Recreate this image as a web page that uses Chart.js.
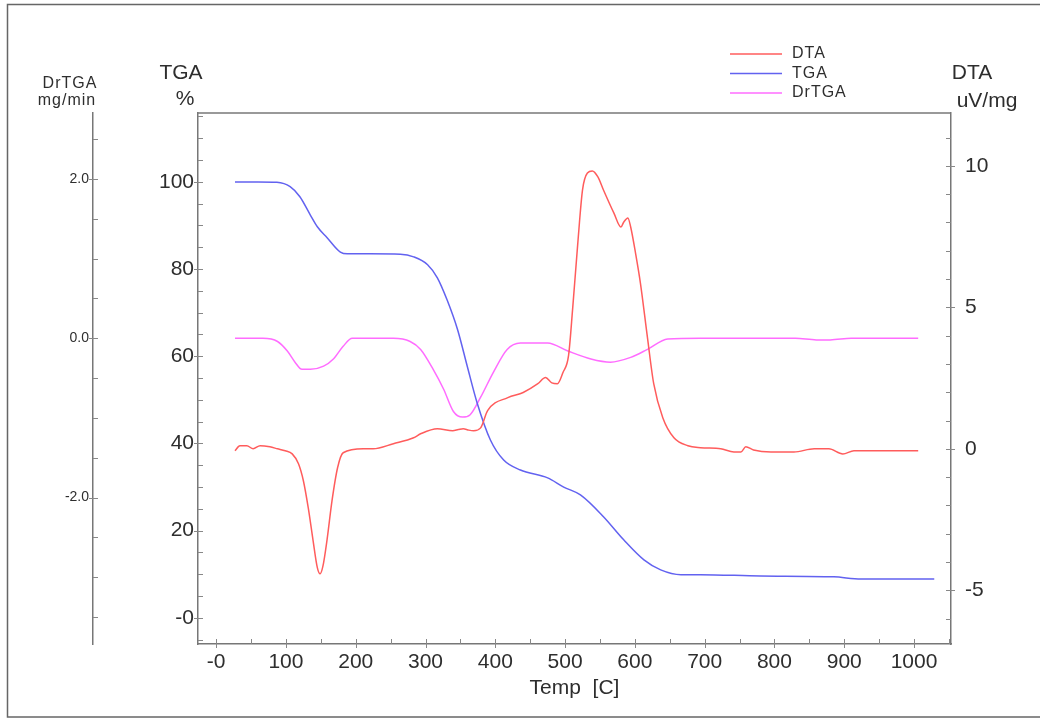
<!DOCTYPE html>
<html>
<head>
<meta charset="utf-8">
<title>DTA / TGA / DrTGA</title>
<script src="https://cdn.jsdelivr.net/npm/chart.js@4.4.1/dist/chart.umd.min.js"></script>
<style>
  html, body { margin: 0; padding: 0; background: #fff; }
  canvas { display: block; }
</style>
</head>
<body>
<canvas id="thermo" width="1040" height="720"></canvas>
<script>
// Temperature [C] / value pairs for each curve
const tgaTemp = [27, 60, 87, 106, 120, 135, 145, 159, 178, 188, 220, 264, 283, 303, 317, 331, 346, 360, 374, 393, 412, 436, 475, 498, 522, 555, 584, 613, 637, 666, 694, 780, 885, 924, 1029];
const tgaPct  = [100, 100, 99.9, 98.9, 96.6, 92.4, 89.7, 87.2, 83.9, 83.5, 83.5, 83.4, 82.8, 81.0, 78.0, 72.9, 66.1, 57.6, 49.3, 40.8, 36.2, 33.9, 32.1, 30.0, 28.2, 23.2, 17.9, 13.3, 11.0, 9.9, 9.9, 9.6, 9.4, 8.9, 8.9];

const dtaTemp = [27, 34, 44, 53, 63, 77, 88, 99, 109, 118, 125, 132, 139, 145, 149, 153, 159, 166, 174, 182, 211, 225, 254, 283, 293, 317, 339, 347, 354, 362, 369, 379, 389, 418, 440, 461, 472, 481, 489, 497, 505, 511, 518, 525, 532, 539, 547, 555, 570, 580, 584, 590, 594, 601, 608, 618, 627, 640, 656, 676, 694, 723, 742, 752, 759, 770, 795, 828, 857, 878, 898, 914, 943, 1006];
const dtaVal  = [-0.07, 0.11, 0.11, 0.0, 0.11, 0.07, 0.0, -0.07, -0.18, -0.53, -1.13, -2.09, -3.26, -4.2, -4.42, -4.15, -3.2, -1.84, -0.67, -0.14, 0.0, 0.0, 0.18, 0.39, 0.53, 0.71, 0.64, 0.68, 0.71, 0.66, 0.64, 0.74, 1.35, 1.81, 1.99, 2.30, 2.52, 2.33, 2.30, 2.7, 3.3, 5.0, 7.2, 9.15, 9.75, 9.82, 9.61, 9.15, 8.33, 7.84, 8.01, 8.16, 7.84, 6.91, 5.85, 3.94, 2.30, 1.10, 0.39, 0.11, 0.04, 0.0, -0.11, -0.11, 0.07, -0.04, -0.11, -0.11, 0.0, 0.0, -0.18, -0.07, -0.07, -0.07];

const drtgaTemp = [27, 67, 88, 102, 113, 123, 135, 154, 168, 182, 195, 254, 278, 293, 311, 326, 340, 353, 364, 379, 397, 417, 436, 475, 504, 537, 565, 594, 618, 647, 694, 830, 860, 880, 910, 1006];
const drtgaVal  = [0, 0, -0.04, -0.16, -0.30, -0.39, -0.39, -0.35, -0.26, -0.10, 0, 0, -0.04, -0.14, -0.39, -0.64, -0.92, -0.99, -0.96, -0.74, -0.43, -0.14, -0.06, -0.06, -0.16, -0.26, -0.30, -0.24, -0.14, -0.01, 0, 0, -0.02, -0.02, 0, 0];

const seriesNames = ['DTA', 'TGA', 'DrTGA'];
const seriesColors = ['#ff5c5c', '#6262f0', '#ff6cff'];

const toPoints = (xs, ys) => xs.map((x, i) => ({ x: x, y: ys[i] }));

const FONT = "'Liberation Sans', Arial, sans-serif";
const TEXT = '#2e2e2e';
const AXIS = '#777';
Chart.defaults.font.family = FONT;
Chart.defaults.color = TEXT;

const axisBase = {
    grid: { display: false, drawTicks: false },
    border: { display: true, color: AXIS, width: 1.5 }
};

// headers, legend, tick marks and frame drawn on top of the chart
const decorations = {
    id: 'decorations',
    beforeDraw(chart) {
        const ctx = chart.ctx;
        ctx.save();
        ctx.fillStyle = '#fff';
        ctx.fillRect(0, 0, chart.width, chart.height);
        ctx.restore();
    },
    afterDraw(chart) {
        const { ctx, chartArea: a, scales } = chart;
        ctx.save();

        // outer frame
        ctx.strokeStyle = '#666';
        ctx.lineWidth = 1.5;
        ctx.strokeRect(7.5, 4.5, chart.width + 20, 712.5);

        // top edge of the plot box
        ctx.strokeStyle = AXIS;
        ctx.beginPath();
        ctx.moveTo(a.left, a.top);
        ctx.lineTo(a.right, a.top);
        ctx.stroke();

        // tick marks pointing into the plot
        ctx.lineWidth = 1;
        ctx.strokeStyle = '#888';
        const marks = (scale, axisPos, dir, horizontal) => {
            scale.ticks.forEach(t => {
                const p = Math.round(scale.getPixelForValue(t.value)) + 0.5;
                const major = t.label !== '';
                const from = axisPos - (major ? 4 : 0) * dir;
                const to = axisPos + 5 * dir;
                ctx.beginPath();
                if (horizontal) { ctx.moveTo(p, from); ctx.lineTo(p, to); }
                else { ctx.moveTo(from, p); ctx.lineTo(to, p); }
                ctx.stroke();
            });
        };
        marks(scales.x, a.bottom, -1, true);
        marks(scales.tga, scales.tga.right, 1, false);
        marks(scales.drtga, scales.drtga.right, 1, false);
        marks(scales.dta, scales.dta.left, -1, false);

        // axis headers
        ctx.fillStyle = TEXT;
        ctx.textAlign = 'center';
        ctx.textBaseline = 'middle';
        ctx.font = '21px ' + FONT;
        ctx.fillText('TGA', scales.tga.right - 17, 73);
        ctx.fillText('%', scales.tga.right - 13, 99);
        ctx.fillText('DTA', scales.dta.left + 21, 73);
        ctx.fillText('uV/mg', scales.dta.left + 36, 101);

        ctx.font = '16px ' + FONT;
        ctx.letterSpacing = '1px';
        ctx.fillText('DrTGA', scales.drtga.right - 23, 84);
        ctx.fillText('mg/min', scales.drtga.right - 26, 101);

        // legend
        ctx.textAlign = 'left';
        chart.data.datasets.forEach((ds, i) => {
            const y = a.top - 59 + i * 19.5;
            ctx.strokeStyle = ds.borderColor;
            ctx.lineWidth = 1.5;
            ctx.beginPath();
            ctx.moveTo(a.right - 221, y);
            ctx.lineTo(a.right - 169, y);
            ctx.stroke();
            ctx.fillStyle = TEXT;
            ctx.fillText(ds.label, a.right - 159, y);
        });
        ctx.restore();
    }
};

const lineStyle = {
    borderWidth: 1.5,
    pointRadius: 0,
    fill: false,
    cubicInterpolationMode: 'monotone'
};

new Chart(document.getElementById('thermo'), {
    type: 'line',
    data: {
        datasets: [
            { ...lineStyle, label: seriesNames[0], data: toPoints(dtaTemp, dtaVal), yAxisID: 'dta', borderColor: seriesColors[0] },
            { ...lineStyle, label: seriesNames[1], data: toPoints(tgaTemp, tgaPct), yAxisID: 'tga', borderColor: seriesColors[1] },
            { ...lineStyle, label: seriesNames[2], data: toPoints(drtgaTemp, drtgaVal), yAxisID: 'drtga', borderColor: seriesColors[2] }
        ]
    },
    options: {
        responsive: false,
        animation: false,
        devicePixelRatio: 1,
        layout: { padding: { left: 33, right: 29, top: 113, bottom: 19 } },
        plugins: { legend: { display: false }, tooltip: { enabled: false } },
        scales: {
            x: {
                ...axisBase,
                type: 'linear',
                position: 'bottom',
                min: -26,
                max: 1053,
                ticks: {
                    stepSize: 50,
                    includeBounds: false,
                    autoSkip: false,
                    maxRotation: 0,
                    padding: 6,
                    font: { size: 21 },
                    callback: v => v % 100 === 0 ? (v === 0 ? '-0' : String(v)) : ''
                },
                title: { display: true, text: 'Temp  [C]', font: { size: 21 }, padding: { top: 0, bottom: 0 } },
                afterFit: s => { s.height = 57; }
            },
            tga: {
                ...axisBase,
                type: 'linear',
                position: 'left',
                weight: 0,
                min: -6,
                max: 115.8,
                ticks: {
                    stepSize: 5,
                    includeBounds: false,
                    autoSkip: false,
                    padding: 4,
                    font: { size: 21 },
                    callback: v => v % 20 === 0 ? (v === 0 ? '-0' : String(v)) : ''
                },
                afterFit: s => { s.width = 105; }
            },
            drtga: {
                ...axisBase,
                type: 'linear',
                position: 'left',
                weight: 10,
                min: -3.84,
                max: 2.83,
                ticks: {
                    stepSize: 0.5,
                    includeBounds: false,
                    autoSkip: false,
                    padding: 4,
                    font: { size: 14 },
                    callback: v => Math.abs(v % 2) < 1e-6 ? v.toFixed(1) : ''
                },
                afterFit: s => { s.width = 60; }
            },
            dta: {
                ...axisBase,
                type: 'linear',
                position: 'right',
                min: -6.9,
                max: 11.87,
                ticks: {
                    stepSize: 1,
                    includeBounds: false,
                    autoSkip: false,
                    padding: 14,
                    font: { size: 21 },
                    callback: v => v % 5 === 0 ? String(v) : ''
                },
                afterFit: s => { s.width = 60; }
            }
        }
    },
    plugins: [decorations]
});
</script>
</body>
</html>
